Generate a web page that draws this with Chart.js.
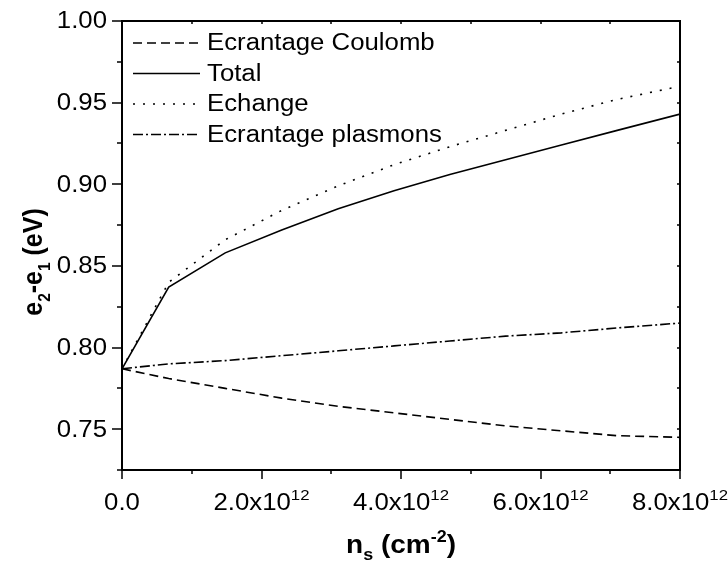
<!DOCTYPE html>
<html lang="fr">
<head>
<meta charset="UTF-8">
<title>e2-e1 en fonction de ns</title>
<script src="https://cdn.jsdelivr.net/npm/chart.js"></script>
<style>
  html, body { margin: 0; padding: 0; background: #fff; }
</style>
</head>
<body>
<canvas id="gapChart" width="728" height="567"></canvas>
<script>
// densité n_s (cm^-2) et écarts e2-e1 (eV)
const ns       = [0, 0.67e12, 1.48e12, 2.29e12, 3.1e12, 3.9e12, 4.7e12, 5.5e12, 6.3e12, 7.1e12, 8.0e12];
const coulomb  = [0.787, 0.781, 0.775, 0.769, 0.764, 0.760, 0.756, 0.752, 0.749, 0.746, 0.745];
const total    = [0.787, 0.837, 0.858, 0.872, 0.885, 0.896, 0.906, 0.915, 0.924, 0.933, 0.943];
const echange  = [0.787, 0.840, 0.866, 0.884, 0.899, 0.912, 0.923, 0.933, 0.943, 0.952, 0.960];
const plasmons = [0.787, 0.790, 0.792, 0.795, 0.798, 0.801, 0.804, 0.807, 0.809, 0.812, 0.815];

const seriesNames = ['Ecrantage Coulomb', 'Total', 'Echange', 'Ecrantage plasmons'];
const seriesDash  = [[9, 5], [], [2, 8], [10, 3, 2, 3]];

const xTickValues = [0, 2e12, 4e12, 6e12, 8e12];
const xTickText   = ['0.0', '2.0x10', '4.0x10', '6.0x10', '8.0x10'];
const xTickExp    = ['', '12', '12', '12', '12'];
const yTickValues = [0.75, 0.80, 0.85, 0.90, 0.95, 1.00];
const yTickText   = ['0.75', '0.80', '0.85', '0.90', '0.95', '1.00'];

const FONT = '"Liberation Sans", Arial, sans-serif';
const SX = 1.12; // la figure d'origine est un peu étirée en largeur

function pts(ys) {
  return ys.map((v, i) => ({ x: ns[i], y: v }));
}

// texte avec indices / exposants, étirable
function drawRich(ctx, parts, x, y, align, sx, sy) {
  let w = 0;
  parts.forEach(p => {
    ctx.font = (p.bold ? 'bold ' : '') + p.size + 'px ' + FONT;
    p.w = ctx.measureText(p.t).width;
    w += p.w;
  });
  ctx.save();
  ctx.translate(x, y);
  ctx.scale(sx || 1, sy || 1);
  let cx = align === 'center' ? -w / 2 : align === 'right' ? -w : 0;
  parts.forEach(p => {
    ctx.font = (p.bold ? 'bold ' : '') + p.size + 'px ' + FONT;
    ctx.fillText(p.t, cx, p.dy || 0);
    cx += p.w;
  });
  ctx.restore();
}

const figurePlugin = {
  id: 'figure',
  afterDraw(chart) {
    const { ctx, chartArea: a, scales: { x, y } } = chart;
    ctx.save();
    ctx.strokeStyle = '#000';
    ctx.fillStyle = '#000';

    // cadre
    ctx.lineWidth = 2;
    ctx.strokeRect(a.left, a.top, a.right - a.left, a.bottom - a.top);

    // graduations
    ctx.lineWidth = 1.5;
    ctx.beginPath();
    x.ticks.forEach(t => {
      const px = Math.round(x.getPixelForValue(t.value));
      const major = Math.round(t.value / 1e12) % 2 === 0;
      ctx.moveTo(px, a.bottom);
      ctx.lineTo(px, a.bottom + (major ? 9 : 4));
      ctx.moveTo(px, a.top);
      ctx.lineTo(px, a.top + 3);
    });
    y.ticks.forEach(t => {
      const py = Math.round(y.getPixelForValue(t.value));
      const major = Math.round(t.value * 1000) % 50 === 0;
      ctx.moveTo(a.left, py);
      ctx.lineTo(a.left - (major ? 10 : 5), py);
      ctx.moveTo(a.right, py);
      ctx.lineTo(a.right - 3, py);
    });
    ctx.stroke();

    // étiquettes des axes
    ctx.textBaseline = 'middle';
    yTickValues.forEach((v, i) => {
      drawRich(ctx, [{ t: yTickText[i], size: 23 }], a.left - 15, y.getPixelForValue(v) + 1, 'right', SX);
    });
    ctx.textBaseline = 'alphabetic';
    xTickValues.forEach((v, i) => {
      const parts = [{ t: xTickText[i], size: 23 }];
      if (xTickExp[i]) parts.push({ t: xTickExp[i], size: 15, dy: -10 });
      drawRich(ctx, parts, x.getPixelForValue(v), a.bottom + 40, 'center', SX);
    });

    // titre x : n_s (cm^-2)
    drawRich(ctx, [
      { t: 'n', size: 25, bold: true },
      { t: 's', size: 16, bold: true, dy: 7 },
      { t: ' (cm', size: 25, bold: true },
      { t: '-2', size: 16, bold: true, dy: -11 },
      { t: ')', size: 25, bold: true }
    ], (a.left + a.right) / 2, a.bottom + 83, 'center', SX);

    // titre y : e2-e1 (eV)
    ctx.save();
    ctx.translate(42, 262);
    ctx.rotate(-Math.PI / 2);
    drawRich(ctx, [
      { t: 'e', size: 25, bold: true },
      { t: '2', size: 15.5, bold: true, dy: 7 },
      { t: '-e', size: 25, bold: true },
      { t: '1', size: 15.5, bold: true, dy: 7 },
      { t: ' (eV)', size: 25, bold: true }
    ], 0, 0, 'center', 1, SX);
    ctx.restore();

    // légende
    ctx.lineWidth = 1.6;
    ctx.textBaseline = 'middle';
    seriesNames.forEach((name, i) => {
      const ly = a.top + 22 + i * 30.5;
      ctx.setLineDash(seriesDash[i]);
      ctx.beginPath();
      ctx.moveTo(a.left + 11, ly);
      ctx.lineTo(a.left + 78, ly);
      ctx.stroke();
      ctx.setLineDash([]);
      drawRich(ctx, [{ t: name, size: 23 }], a.left + 85, ly + 1, 'left', SX);
    });
    ctx.restore();
  }
};

const ctx = document.getElementById('gapChart').getContext('2d');
new Chart(ctx, {
  type: 'line',
  data: {
    datasets: [coulomb, total, echange, plasmons].map((s, i) => ({
      label: seriesNames[i],
      data: pts(s),
      borderColor: '#000',
      borderWidth: 1.6,
      borderDash: seriesDash[i],
      pointRadius: 0,
      tension: 0,
      fill: false
    }))
  },
  options: {
    responsive: false,
    animation: false,
    layout: { padding: { left: 122, top: 21, right: 48, bottom: 97 } },
    plugins: { legend: { display: false }, tooltip: { enabled: false } },
    scales: {
      x: {
        type: 'linear',
        min: 0,
        max: 8e12,
        ticks: { display: false, stepSize: 1e12 },
        grid: { display: false },
        border: { display: false },
        afterFit: s => { s.height = 0; }
      },
      y: {
        min: 0.725,
        max: 1.0,
        ticks: { display: false, stepSize: 0.025 },
        grid: { display: false },
        border: { display: false },
        afterFit: s => { s.width = 0; }
      }
    }
  },
  plugins: [figurePlugin]
});
</script>
</body>
</html>
